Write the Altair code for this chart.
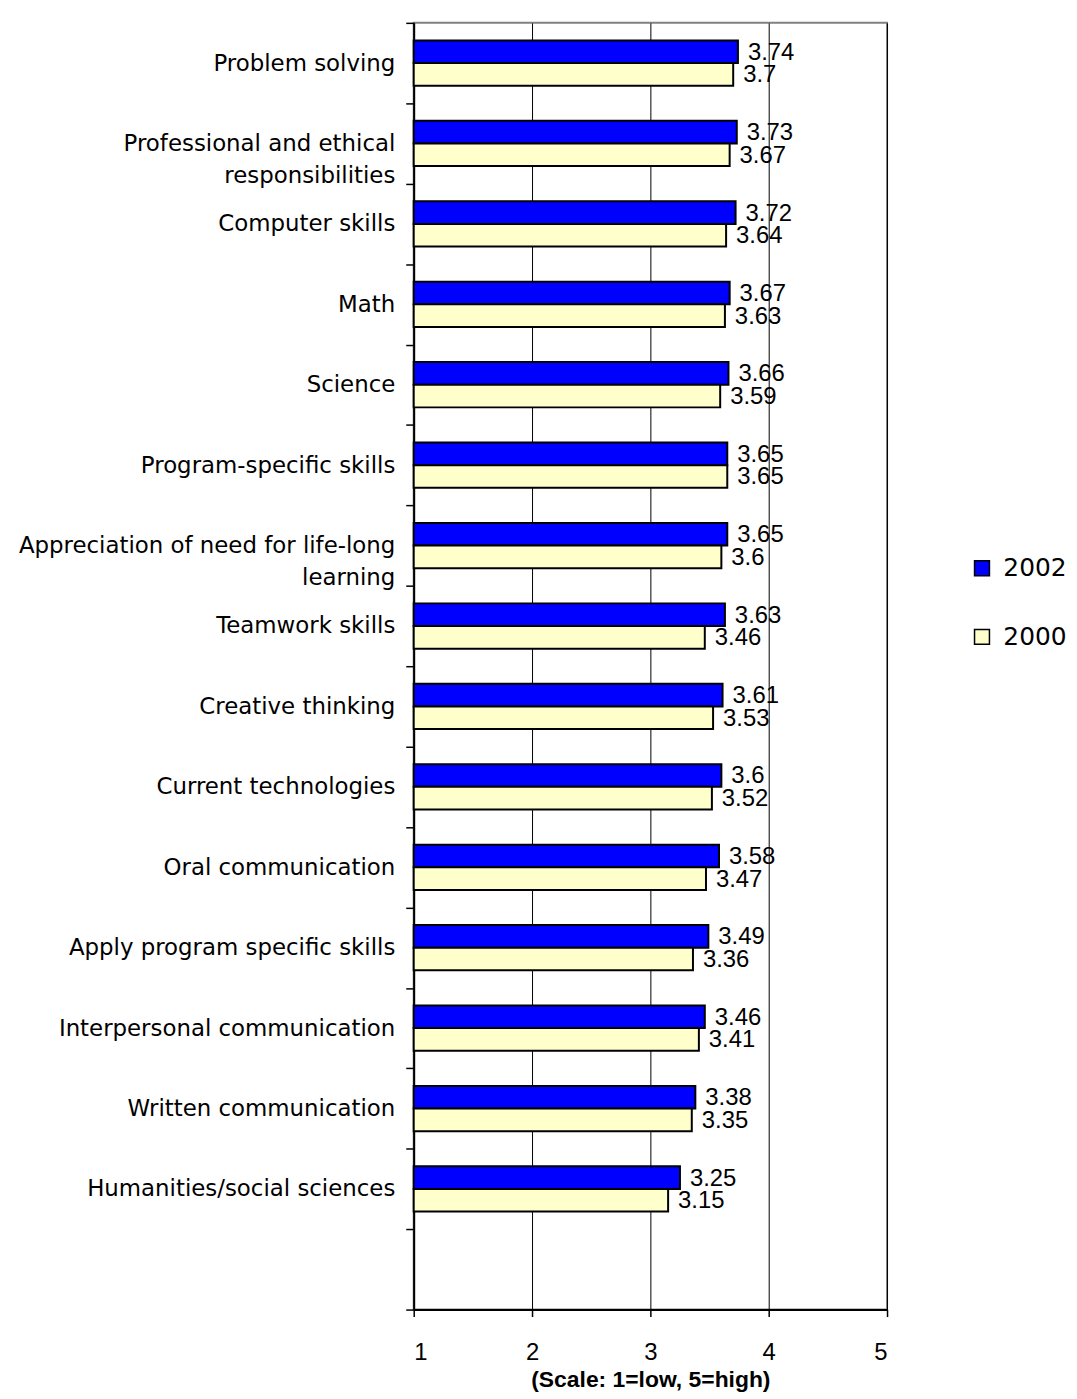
import altair as alt
import pandas as pd

categories = [
    "Problem solving",
    "Professional and ethical\nresponsibilities",
    "Computer skills",
    "Math",
    "Science",
    "Program-specific skills",
    "Appreciation of need for life-long\nlearning",
    "Teamwork skills",
    "Creative thinking",
    "Current technologies",
    "Oral communication",
    "Apply program specific skills",
    "Interpersonal communication",
    "Written communication",
    "Humanities/social sciences",
]
values_2002 = [3.74, 3.73, 3.72, 3.67, 3.66, 3.65, 3.65, 3.63, 3.61, 3.60, 3.58, 3.49, 3.46, 3.38, 3.25]
values_2000 = [3.70, 3.67, 3.64, 3.63, 3.59, 3.65, 3.60, 3.46, 3.53, 3.52, 3.47, 3.36, 3.41, 3.35, 3.15]
years = ["2002", "2000"]
colors = ["#0000FF", "#FFFFCC"]
x_ticks = [1, 2, 3, 4, 5]

rows = []
for c, a, b in zip(categories, values_2002, values_2000):
    rows.append({"skill": c, "year": "2002", "value": a})
    rows.append({"skill": c, "year": "2000", "value": b})
df = pd.DataFrame(rows)

y_domain = categories + [" "]

# Multi-line labels: split on the line break
NBSP = "\u00a0"
centre_pad = {categories[1]: 7, categories[6]: 19}
expr_parts = []
for cat, n in centre_pad.items():
    first, second = cat.split("\n")
    key = cat.replace("\n", "\\n")
    expr_parts.append(f"datum.value == '{key}' ? ['{first}', '{second}{NBSP * n}']")
label_expr = " : ".join(expr_parts) + " : datum.value"

y_enc = alt.Y(
    "skill:N",
    sort=y_domain,
    scale=alt.Scale(domain=y_domain, paddingInner=0, paddingOuter=0),
    axis=alt.Axis(
        title=None,
        grid=False,
        tickBand="extent",
        tickSize=8,
        tickWidth=1.5,
        tickColor="black",
        domainColor="black",
        domainWidth=2,
        labelFont="DejaVu Sans",
        labelFontSize=23,
        labelColor="black",
        labelLineHeight=32,
        labelBaseline="middle",
        labelAlign="right",
        labelPadding=11,
        labelExpr=label_expr,
        labelLimit=600,
    ),
)

x_enc = alt.X(
    "value:Q",
    scale=alt.Scale(domain=[1, 5], zero=False, nice=False),
    axis=alt.Axis(
        values=x_ticks,
        title="(Scale: 1=low, 5=high)",
        titleFont="Liberation Sans",
        titleFontSize=23,
        titleFontWeight="bold",
        titleColor="black",
        titlePadding=4,
        grid=True,
        gridColor="black",
        gridWidth=1,
        tickSize=7,
        tickWidth=1.5,
        tickColor="black",
        domainColor="black",
        domainWidth=2,
        labelFont="Liberation Sans",
        labelFontSize=24,
        labelColor="black",
        labelPadding=24,
        format="d",
    ),
)

yoff = alt.YOffset(
    "year:N",
    sort=years,
    scale=alt.Scale(domain=years, paddingInner=0, paddingOuter=0.777),
)

base = alt.Chart(df).transform_calculate(base="1")

bars = base.mark_bar(stroke="black", strokeWidth=2).encode(
    y=y_enc,
    x=x_enc,
    x2="base:Q",
    yOffset=yoff,
    color=alt.Color(
        "year:N",
        sort=years,
        scale=alt.Scale(domain=years, range=colors),
        legend=alt.Legend(
            title=None,
            orient="none",
            legendX=559,
            legendY=536,
            padding=0,
            symbolType="square",
            symbolSize=225,
            symbolStrokeColor="black",
            symbolStrokeWidth=1.5,
            labelFont="DejaVu Sans",
            labelFontSize=25,
            labelColor="black",
            labelOffset=9,
            rowPadding=43,
        ),
    ),
)

labels = alt.Chart(df).mark_text(
    align="left",
    baseline="middle",
    dx=10,
    dy=1,
    font="Liberation Sans",
    fontSize=24,
    color="black",
).encode(
    y=alt.Y("skill:N", sort=y_domain),
    x=alt.X("value:Q"),
    yOffset=alt.YOffset("year:N", sort=years),
    text=alt.Text("value:Q", format=".2~f"),
)

chart = (
    alt.layer(bars, labels)
    .properties(
        width=476,
        height=1294,
        padding={"top": 0, "left": 10, "right": 2, "bottom": 5},
        background="white",
    )
    .configure_view(stroke="#808080", strokeWidth=2)
)

chart.save("out.html", embed_options={"renderer": "svg", "actions": False})
